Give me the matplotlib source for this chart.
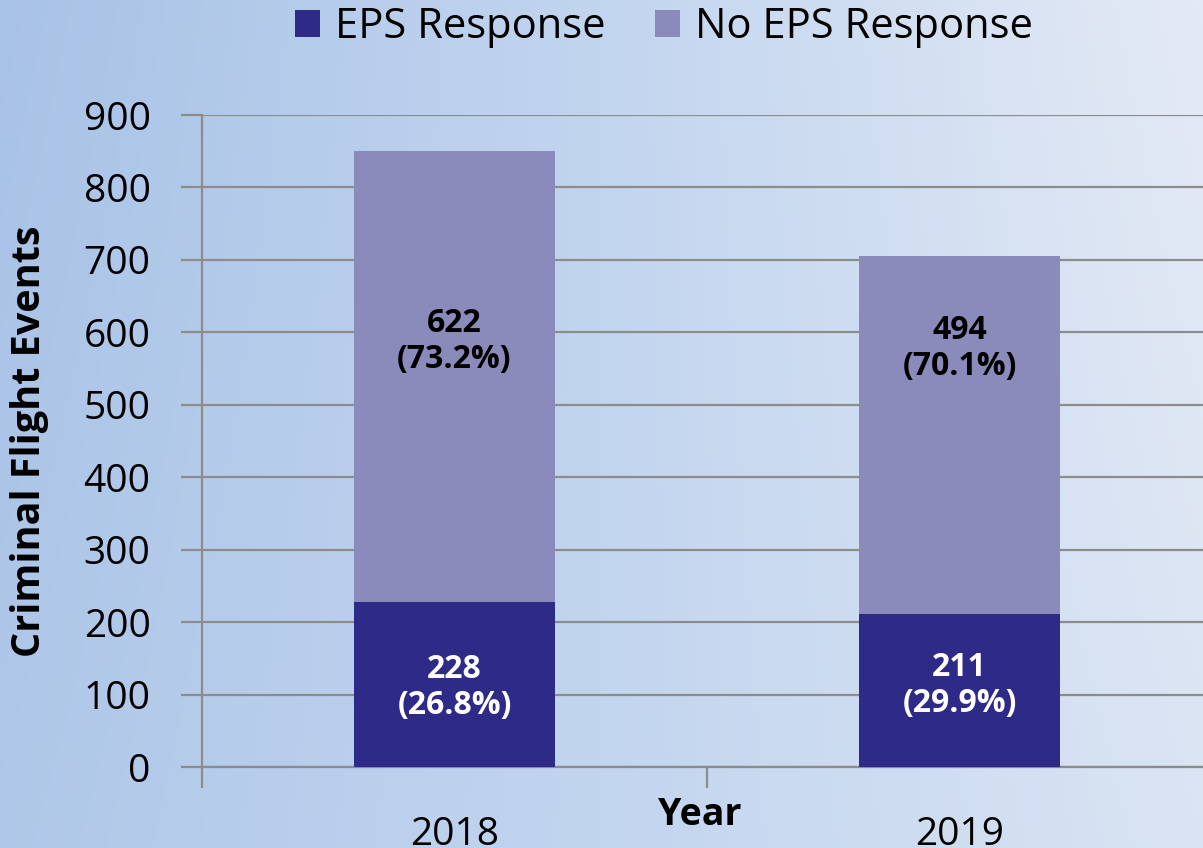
import numpy as np
import matplotlib
matplotlib.use("Agg")
import matplotlib.pyplot as plt
from matplotlib.colors import LinearSegmentedColormap

years = ["2018", "2019"]
eps = [228, 211]
no_eps = [622, 494]
eps_pct = ["26.8%", "29.9%"]
no_eps_pct = ["73.2%", "70.1%"]
series_names = ["EPS Response", "No EPS Response"]
yticks = [0, 100, 200, 300, 400, 500, 600, 700, 800, 900]

# layout: label anchor heights (data units) as placed in the reference
eps_label_y = [110, 113]
no_eps_label_y = [588, 578]

plt.rcParams['font.family'] = ['Open Sans', 'DejaVu Sans']

W, H = 1203, 848
fig = plt.figure(figsize=(W / 100, H / 100), dpi=100)

# background gradient
bg = fig.add_axes([0, 0, 1, 1], zorder=-10)
xx = np.linspace(0, 1, 300)
yy = np.linspace(0, 1, 200)
X, Y = np.meshgrid(xx, yy)
Z = 0.7 * X + 0.3 * Y * X + 0.15 * (1 - Y)
Z = Z / Z.max()
cmap = LinearSegmentedColormap.from_list("bgc", ["#a8c2e6", "#c2d5ef", "#e4eaf5"])
bg.imshow(Z, cmap=cmap, aspect='auto', extent=[0, 1, 0, 1], origin='lower')
bg.axis('off')

left = 202 / W
right = 1203 / W
bottom = 1 - 767 / H
top = 1 - 115 / H
ax = fig.add_axes([left, bottom, right - left, top - bottom])
ax.patch.set_alpha(0)

x = np.arange(len(years))
c_dark = "#2e2a87"
c_light = "#8a8bbb"
w = 0.398
b1 = ax.bar(x, eps, width=w, color=c_dark, label=series_names[0], zorder=3)
b2 = ax.bar(x, no_eps, width=w, bottom=eps, color=c_light, label=series_names[1], zorder=3)

for i in range(len(years)):
    ax.text(x[i], eps_label_y[i], f"{eps[i]}\n({eps_pct[i]})", ha='center', va='center',
            color='white', fontsize=23, fontweight='bold', linespacing=1.12, zorder=4)
    ax.text(x[i], no_eps_label_y[i], f"{no_eps[i]}\n({no_eps_pct[i]})", ha='center', va='center',
            color='black', fontsize=23, fontweight='bold', linespacing=1.12, zorder=4)

ax.set_yticks(yticks)
ax.set_xticks([-0.5, 0.5, 1.5], minor=False)
ax.set_xticklabels([])
ax.set_xticks(x, minor=True)
ax.set_xticklabels(years, minor=True)
ax.set_xlim(-0.5, -0.5 + 1001 / 505)
ax.set_ylim(0, 900)

ax.yaxis.grid(True, color='#8c8c8c', linewidth=1.6, zorder=0)
ax.tick_params(axis='y', length=15, width=1.6, color='#8c8c8c', labelsize=28, pad=22)
ax.tick_params(axis='x', which='major', length=15, width=1.6, color='#8c8c8c')
ax.tick_params(axis='x', which='minor', length=0, labelsize=28, pad=35)

for s in ['top', 'right']:
    ax.spines[s].set_visible(False)
for s in ['left', 'bottom']:
    ax.spines[s].set_color('#8c8c8c')
    ax.spines[s].set_linewidth(1.6)

ax.set_ylabel("Criminal Flight Events", fontsize=28.5, fontweight='bold')
ax.yaxis.set_label_coords(-153 / 1001, 0.5)
fig.text(700 / W, 1 - 815 / H, "Year", ha='center', va='center', fontsize=27, fontweight='bold')

fig.legend(handles=[b1, b2], loc='center', bbox_to_anchor=(664 / W, 1 - 27 / H), ncol=2,
           frameon=False, fontsize=30, handlelength=0.6, handleheight=0.6, handletextpad=0.35,
           columnspacing=1.2, borderpad=0)

fig.savefig("out.png", dpi=100)
